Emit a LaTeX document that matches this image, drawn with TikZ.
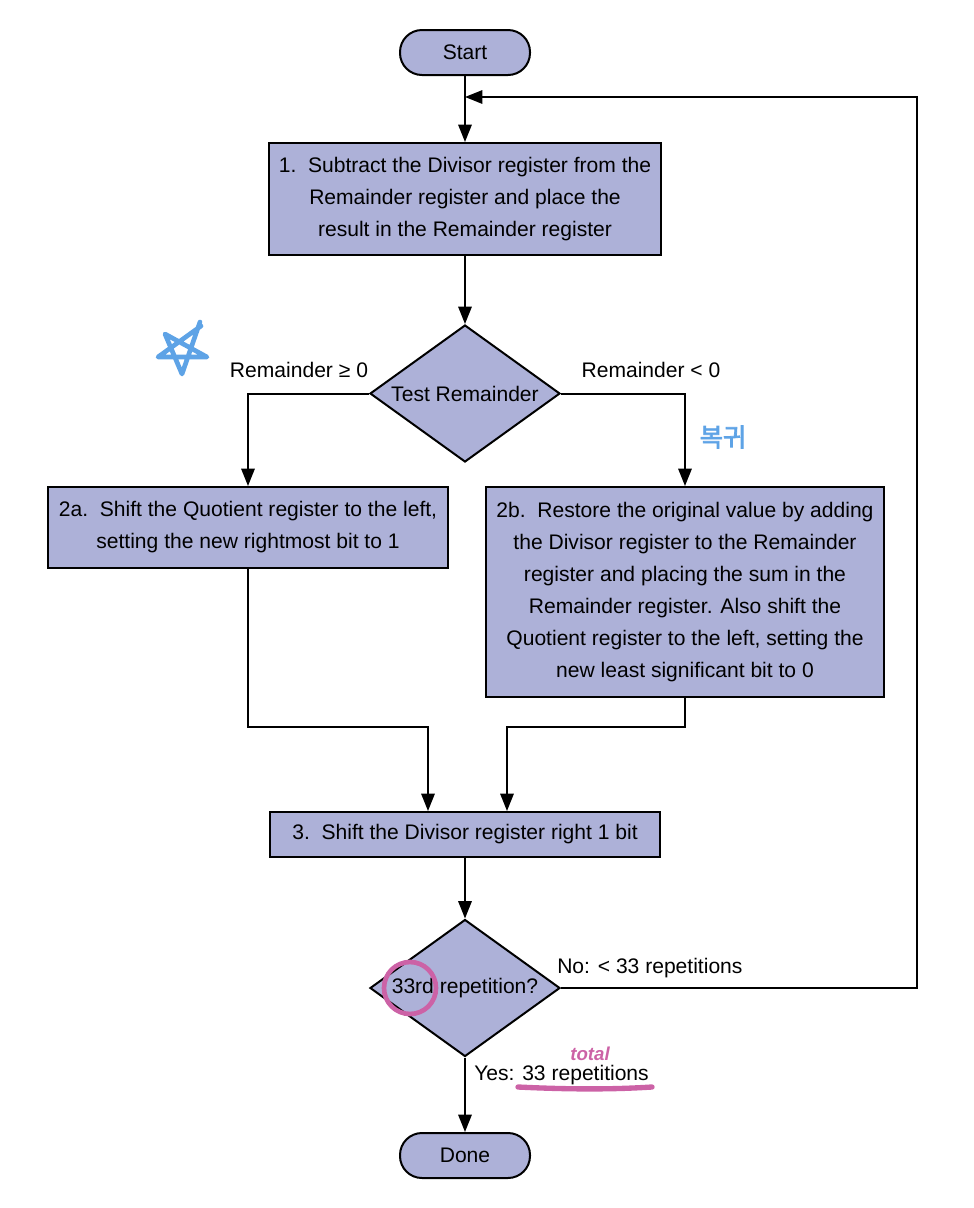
\documentclass[tikz,border=0pt]{standalone}
\usepackage{fontspec}
\setmainfont{Liberation Sans}
\newfontfamily\krfont[FakeBold=3]{Noto Sans CJK KR}
\usetikzlibrary{shapes.geometric,arrows.meta}
\definecolor{boxfill}{HTML}{ADB1D8}
\definecolor{annblue}{HTML}{5EA3E6}
\definecolor{annpink}{HTML}{CC62A6}
\tikzset{
  every node/.style={font=\fontsize{15.8}{24}\selectfont, inner sep=0pt},
  stepbox/.style={draw=black, line width=1.5pt, fill=boxfill, rectangle, align=center},
  termbox/.style={draw=black, line width=1.5pt, fill=boxfill, rectangle, rounded corners=16.5pt, minimum width=97.5pt, minimum height=33.75pt},
  decbox/.style={draw=black, line width=1.5pt, fill=boxfill, diamond, minimum width=142.5pt, minimum height=102.75pt},
  arr/.style={line width=1.5pt, -{Triangle[length=13pt,width=10pt]}},
  lbl/.style={font=\fontsize{15.8}{18}\selectfont},
}
\begin{document}
\begin{tikzpicture}[x=0.75pt,y=-0.75pt]
\useasboundingbox (0,0) rectangle (974,1208);
% nodes
\node[termbox] (start) at (465,52.5) {Start};
\node[stepbox, minimum width=294pt, minimum height=84pt] (b1) at (465,199)
  {1.\ \ Subtract the Divisor register from the\\Remainder register and place the\\result in the Remainder register};
\node[decbox] (d1) at (465,393.5) {};
\node[lbl] (d1t) at (465,393.5) {Test Remainder};
\node[stepbox, minimum width=300pt, minimum height=60.75pt] (b2a) at (248,527.5)
  {2a.\ \ Shift the Quotient register to the left,\\setting the new rightmost bit to 1};
\node[stepbox, minimum width=298.5pt, minimum height=157.5pt] (b2b) at (685,592)
  {2b.\ \ Restore the original value by adding\\the Divisor register to the Remainder\\register and placing the sum in the\\Remainder register. Also shift the\\Quotient register to the left, setting the\\new least significant bit to 0};
\node[stepbox, minimum width=292.5pt, minimum height=33.75pt] (b3) at (465,834.5)
  {3.\ \ Shift the Divisor register right 1 bit};
\node[decbox] (d2) at (465,988) {};
\node[lbl] (d2t) at (465,988) {33rd repetition?};
\node[termbox] (done) at (465,1155.5) {Done};
% labels
\node[lbl] (lge) at (299,370) {Remainder ≥ 0};
\node[lbl] (llt) at (651,370) {Remainder < 0};
\node[lbl, anchor=west] (lno) at (557,968) {No: < 33 repetitions};
\node[lbl, anchor=west] (lyes) at (474,1075) {Yes: 33 repetitions};
% coordinates
\coordinate (join) at (465,97);
\coordinate (loopc) at (917,97);
\coordinate (m1) at (428,727);
\coordinate (m2) at (507,727);
% connectors
\draw[arr] (start.south) -- (b1.north);
\draw[arr] (b1.south) -- (d1.north);
\draw[arr] (d1.west) -| (b2a.north);
\draw[arr] (d1.east) -| (b2b.north);
\draw[arr] (b2a.south) |- (m1) -- (m1 |- b3.north);
\draw[arr] (b2b.south) |- (m2) -- (m2 |- b3.north);
\draw[arr] (b3.south) -- (d2.north);
\draw[arr] (d2.south) -- (done.north);
\draw[arr] (d2.east) -| (loopc) -- (join);
% annotations
\draw[annblue, line width=3.5pt, line cap=round, line join=round]
  (200,322) -- (182,374) -- (165,334) -- (207,357) -- (158,357) -- (201,326);
\node[text=annblue, font=\krfont\fontsize{19}{19}\selectfont] (kr) at (723,437) {복귀};
\draw[annpink, line width=3.5pt] (410,988) circle (26);
\node[text=annpink, font=\bfseries\itshape\fontsize{14}{14}\selectfont] (tot) at (590,1054) {total};
\draw[annpink, line width=4pt, line cap=round] (518,1087) .. controls (580,1090) and (620,1089) .. (652,1087);
\end{tikzpicture}
\end{document}
